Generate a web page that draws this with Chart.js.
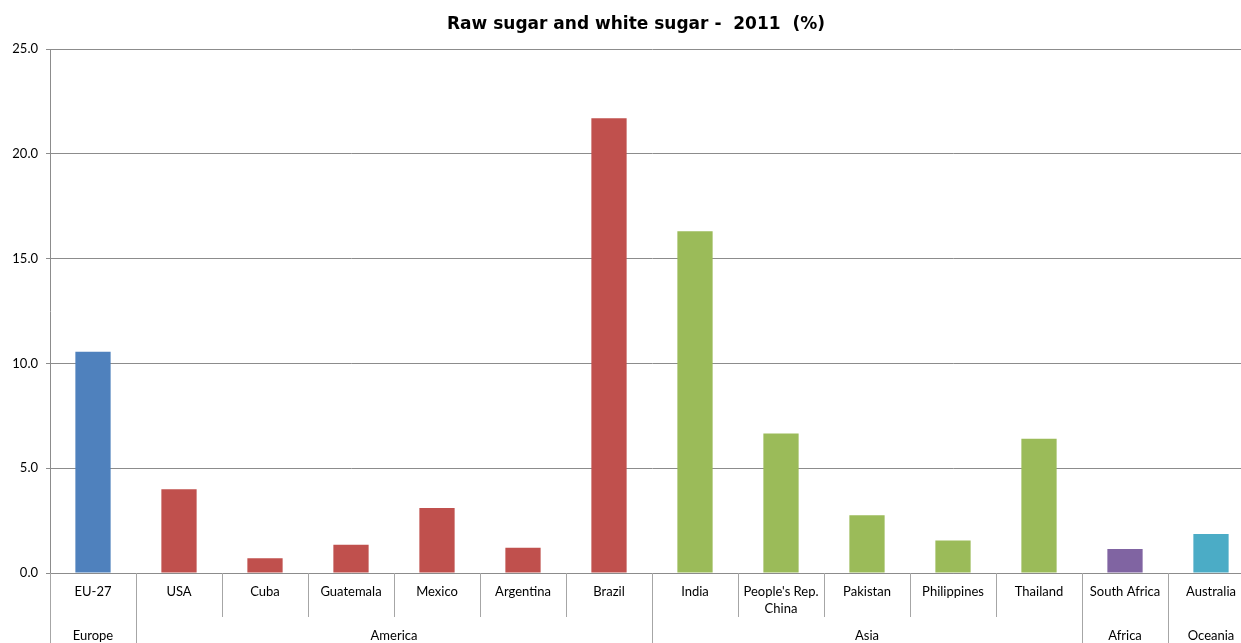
<!DOCTYPE html>
<html>
<head>
<meta charset="utf-8">
<script src="https://cdn.jsdelivr.net/npm/chart.js@4"></script>
<style>
  html, body { margin: 0; padding: 0; background: #fff; overflow: hidden; }
  #wrap { width: 1241px; height: 643px; overflow: hidden; }
</style>
</head>
<body>
<div id="wrap"><canvas id="myChart" width="1254" height="643"></canvas></div>
<script>
  // Data
  const countries = ['EU-27', 'USA', 'Cuba', 'Guatemala', 'Mexico', 'Argentina', 'Brazil',
    'India', ["People's Rep.", 'China'], 'Pakistan', 'Philippines', 'Thailand',
    'South Africa', 'Australia'];
  const shares = [10.55, 4.0, 0.7, 1.35, 3.1, 1.2, 21.7, 16.3, 6.65, 2.75, 1.55, 6.4, 1.15, 1.86];
  const regions = ['Europe', 'America', 'Asia', 'Africa', 'Oceania'];
  const regionSizes = [1, 6, 5, 1, 1];
  const yTicks = [0, 5, 10, 15, 20, 25];

  const regionColors = ['#4F81BD', '#C0504D', '#9BBB59', '#8064A2', '#4BACC6'];
  const barColors = [];
  regionSizes.forEach((n, r) => { for (let i = 0; i < n; i++) barColors.push(regionColors[r]); });

  const labelFont = { family: 'Lato, "Liberation Sans", sans-serif', size: 13, lineHeight: 1.3 };

  // Title, category separators and region row
  const groupAxis = {
    id: 'groupAxis',
    afterDraw(chart) {
      const c = chart.ctx;
      const x = chart.scales.x;
      const half = (x.getPixelForValue(1) - x.getPixelForValue(0)) / 2;
      const bounds = new Set([0]);
      let acc = 0;
      regionSizes.forEach(n => { acc += n; bounds.add(acc); });

      c.save();
      c.strokeStyle = '#a6a6a6';
      c.lineWidth = 1;
      for (let i = 0; i <= countries.length; i++) {
        const px = Math.round(i < countries.length ? x.getPixelForValue(i) - half : x.getPixelForValue(i - 1) + half) + 0.5;
        const y2 = bounds.has(i) ? x.bottom : x.top + 44;
        c.beginPath();
        c.moveTo(px, x.top);
        c.lineTo(px, y2);
        c.stroke();
      }

      c.fillStyle = '#000';
      c.font = `${labelFont.size}px ${labelFont.family}`;
      c.textAlign = 'center';
      c.textBaseline = 'middle';
      let start = 0;
      regions.forEach((name, r) => {
        const end = start + regionSizes[r];
        const left = x.getPixelForValue(start) - half;
        const right = x.getPixelForValue(end - 1) + half;
        c.fillText(name, (left + right) / 2, x.top + 63);
        start = end;
      });

      c.font = 'bold 17px "DejaVu Sans", Verdana, sans-serif';
      c.fillText('Raw sugar and white sugar -  2011  (%)', 636, 25);
      c.restore();
    }
  };

  const ctx = document.getElementById('myChart').getContext('2d');
  const myChart = new Chart(ctx, {
    type: 'bar',
    data: {
      labels: countries,
      datasets: [{
        data: shares,
        backgroundColor: barColors,
        barPercentage: 0.41,
        categoryPercentage: 1.0
      }]
    },
    options: {
      responsive: false,
      animation: false,
      layout: { padding: { top: 49, left: 0, right: 0, bottom: 0 } },
      plugins: {
        legend: { display: false },
        tooltip: { enabled: false }
      },
      scales: {
        x: {
          grid: { display: false },
          border: { display: true, color: '#8c8c8c' },
          ticks: { color: '#000', font: labelFont, padding: 2, maxRotation: 0, autoSkip: false },
          afterFit(scale) { scale.height = 70; }
        },
        y: {
          min: 0,
          max: 25,
          afterBuildTicks(scale) { scale.ticks = yTicks.map(v => ({ value: v })); },
          grid: { color: '#8c8c8c', tickLength: 4 },
          border: { color: '#8c8c8c' },
          ticks: {
            color: '#000',
            font: labelFont,
            padding: 8,
            callback: v => v.toFixed(1)
          },
          afterFit(scale) { scale.width = 50; }
        }
      }
    },
    plugins: [groupAxis]
  });
</script>
</body>
</html>
